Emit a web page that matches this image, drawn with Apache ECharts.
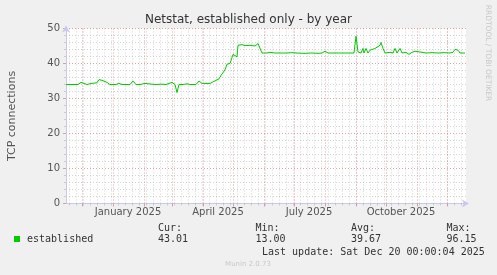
<!DOCTYPE html>
<html><head><meta charset="utf-8">
<script src="https://cdn.jsdelivr.net/npm/echarts@6/dist/echarts.min.js"></script>
<style>html,body{margin:0;padding:0;background:#f0f0f0}#c{width:497px;height:275px}</style>
</head><body><div id="c"></div><script>
const dates = ['2024-11-15','2024-11-21','2024-11-27','2024-11-30','2024-12-02','2024-12-06','2024-12-10','2024-12-12','2024-12-16','2024-12-18','2024-12-20','2024-12-21','2024-12-23','2024-12-26','2024-12-29',
'2025-01-04','2025-01-07','2025-01-10','2025-01-18','2025-01-21','2025-01-24','2025-01-28','2025-02-02','2025-02-04','2025-02-12','2025-02-19','2025-02-23','2025-02-25','2025-03-01','2025-03-04','2025-03-06','2025-03-08','2025-03-12','2025-03-16','2025-03-19','2025-03-25','2025-03-28','2025-03-31',
'2025-04-04','2025-04-08','2025-04-10','2025-04-12','2025-04-14','2025-04-17','2025-04-19','2025-04-21','2025-04-23','2025-04-25','2025-04-28','2025-04-30','2025-05-01','2025-05-03','2025-05-05','2025-05-06','2025-05-08','2025-05-10','2025-05-13','2025-05-15','2025-05-18','2025-05-20','2025-05-23','2025-05-26','2025-05-28','2025-05-30',
'2025-06-01','2025-06-04','2025-06-07','2025-06-12','2025-06-14','2025-06-18','2025-06-24','2025-06-29','2025-07-01','2025-07-03','2025-07-12','2025-07-19','2025-07-25','2025-07-29','2025-08-01','2025-08-04','2025-08-16','2025-08-26','2025-08-28','2025-08-30',
'2025-09-01','2025-09-03','2025-09-04','2025-09-06','2025-09-08','2025-09-09','2025-09-11','2025-09-13','2025-09-15','2025-09-17','2025-09-20','2025-09-22','2025-09-25','2025-09-26','2025-09-28','2025-09-30',
'2025-10-05','2025-10-08','2025-10-10','2025-10-12','2025-10-15','2025-10-17','2025-10-21','2025-10-24','2025-10-27','2025-10-30','2025-11-01','2025-11-06','2025-11-10','2025-11-16','2025-11-22','2025-11-28','2025-12-04','2025-12-07','2025-12-09','2025-12-12','2025-12-14','2025-12-16','2025-12-19'];
const values = [34.0,34.0,34.0,34.6,34.1,34.0,34.3,34.0,34.5,35.4,35.8,35.2,34.9,34.6,34.0,
34.0,34.3,34.0,34.0,35.0,34.0,34.0,34.3,34.0,34.0,34.1,34.0,34.3,34.6,34.0,31.7,34.0,34.0,34.2,34.0,34.0,35.0,34.3,
34.3,34.3,34.5,34.9,34.7,35.6,36.6,36.8,38.2,39.8,40.0,41.7,42.6,42.8,41.9,45.2,45.0,45.4,45.1,45.3,45.2,45.4,45.0,45.7,45.2,43.0,
43.3,43.0,43.2,43.0,43.3,43.0,43.0,43.1,43.5,43.0,42.9,43.0,42.9,43.0,43.5,43.0,43.0,43.0,43.5,43.0,
47.8,43.3,43.8,43.0,44.3,43.0,44.3,43.0,43.8,43.5,44.3,44.8,45.2,46.0,44.3,43.0,
43.2,43.0,44.3,43.0,44.3,43.0,43.2,42.6,43.2,43.5,43.0,43.2,43.0,43.1,43.0,43.1,43.0,43.2,44.0,43.8,43.0,43.5,43.0];
const rangeStart = '2024-11-15';
const rangeEnd = '2025-12-20';
const xLabelNames = ['January 2025','April 2025','July 2025','October 2025'];
const xLabelDates = ['2025-01-16','2025-04-16','2025-07-16','2025-10-16'];
const statLabels = ['Cur:','Min:','Avg:','Max:'];
const statValues = ['43.01','13.00','39.67','96.15'];
const seriesName = 'established';
const lastUpdate = 'Last update: Sat Dec 20 00:00:04 2025';

const t0 = Date.parse(rangeStart), t1 = Date.parse(rangeEnd);
const DAY = 86400000;
const monthStarts = [];
for (let y = 2024, m = 0; y < 2027; ) { const t = Date.UTC(y, m, 1); if (t >= t0 && t <= t1) monthStarts.push(t); m++; if (m > 11) { m = 0; y++; } }
const weekStarts = [];
for (let t = Date.parse('2024-11-18'); t <= t1; t += 7 * DAY) weekStarts.push(t);
const labelTs = xLabelDates.map(d => Date.parse(d));

const MONO = '"DejaVu Sans Mono", monospace';
const SANS = '"DejaVu Sans", sans-serif';
const red = 'rgba(225,110,110,0.65)';
const gray = 'rgba(160,160,160,0.45)';
const axisCol = '#c8c8f0';

const rect = { left: 66, top: 28.5, width: 400, height: 175 };
const baseX = { type: 'value', min: t0, max: t1, position: 'bottom' };
const hiddenY = { type: 'value', min: 0, max: 50, show: false, splitLine: { show: false } };
const chart = echarts.init(document.getElementById('c'), null, { renderer: 'canvas' });
const statX = [158, 255.5, 351, 446.5];
const graphics = [
  { type: 'text', x: 12, y: 116, rotation: Math.PI / 2, style: { text: 'TCP connections', font: '11px ' + SANS, fill: '#555', align: 'center', verticalAlign: 'middle' } },
  { type: 'text', x: 488, y: 53, rotation: -Math.PI / 2, style: { text: 'RRDTOOL / TOBI OETIKER', font: '7.5px ' + SANS, fill: '#c8c8c8', align: 'center', verticalAlign: 'middle' } },
  { type: 'text', x: 262, y: 252, style: { text: lastUpdate, font: '10px ' + MONO, fill: '#333', verticalAlign: 'middle' } },
  { type: 'text', x: 248, y: 264, style: { text: 'Munin 2.0.73', font: '7px ' + SANS, fill: '#c8c8c8', align: 'center', verticalAlign: 'middle' } }
];
statLabels.forEach((s, i) => {
  graphics.push({ type: 'text', x: statX[i], y: 228.5, style: { text: s, font: '10px ' + MONO, fill: '#333', verticalAlign: 'middle' } });
  graphics.push({ type: 'text', x: statX[i], y: 239.5, style: { text: statValues[i], font: '10px ' + MONO, fill: '#333', verticalAlign: 'middle' } });
});

chart.setOption({
  animation: false,
  backgroundColor: '#f0f0f0',
  title: { text: 'Netstat, established only - by year', left: 'center', top: 9, textStyle: { fontFamily: SANS, fontSize: 12, fontWeight: 'normal', color: '#333' } },
  legend: { left: 14, top: 234, padding: 0, icon: 'rect', itemWidth: 6, itemHeight: 6, textStyle: { fontFamily: MONO, fontSize: 10, color: '#333', padding: [0, 0, 0, 2] }, data: [seriesName] },
  grid: [
    Object.assign({ show: true, backgroundColor: '#ffffff', borderWidth: 0 }, rect),
    Object.assign({ show: false }, rect),
    Object.assign({ show: false }, rect)
  ],
  xAxis: [
    Object.assign({}, baseX, {
      gridIndex: 0,
      axisLine: { show: false },
      axisTick: { show: true, customValues: weekStarts, length: 2, lineStyle: { color: gray } },
      axisLabel: { show: false },
      splitLine: { show: true, lineStyle: { color: gray, type: [1, 2], width: 1 } }
    }),
    Object.assign({}, baseX, {
      gridIndex: 1,
      axisLine: { show: false },
      axisTick: { show: true, customValues: monthStarts, length: 3, lineStyle: { color: red } },
      axisLabel: { show: false },
      splitLine: { show: true, lineStyle: { color: red, type: [1, 2], width: 1 } }
    }),
    Object.assign({}, baseX, {
      gridIndex: 2,
      axisLine: { show: true, symbol: ['none', 'arrow'], symbolSize: [6, 7], symbolOffset: [0, 3], lineStyle: { color: axisCol, width: 1 } },
      axisTick: { show: false, customValues: labelTs },
      axisLabel: { show: true, customValues: labelTs, margin: 4, fontFamily: SANS, fontSize: 10, color: '#555',
        formatter: v => xLabelNames[labelTs.indexOf(v)] || '' },
      splitLine: { show: false }
    })
  ],
  yAxis: [{
    gridIndex: 0,
    type: 'value', min: 0, max: 50, interval: 10,
    axisLine: { show: true, symbol: ['none', 'arrow'], symbolSize: [6, 7], symbolOffset: [0, 3], lineStyle: { color: axisCol, width: 1 } },
    axisTick: { show: true, length: 3, lineStyle: { color: red } },
    minorTick: { show: true, splitNumber: 5, length: 2, lineStyle: { color: gray } },
    axisLabel: { margin: 6, fontFamily: SANS, fontSize: 10, color: '#555' },
    splitLine: { show: true, lineStyle: { color: red, type: [1, 2], width: 1 } },
    minorSplitLine: { show: true, lineStyle: { color: gray, type: [1, 2], width: 1 } }
  }, Object.assign({ gridIndex: 1 }, hiddenY), Object.assign({ gridIndex: 2 }, hiddenY)],
  series: [{
    name: seriesName, type: 'line', xAxisIndex: 0, yAxisIndex: 0, showSymbol: false, symbol: 'none',
    itemStyle: { color: '#00cc00' }, lineStyle: { color: '#00cc00', width: 1 },
    data: dates.map((d, i) => [Date.parse(d), values[i]]), z: 5
  }],
  graphic: graphics
});
</script></body></html>
